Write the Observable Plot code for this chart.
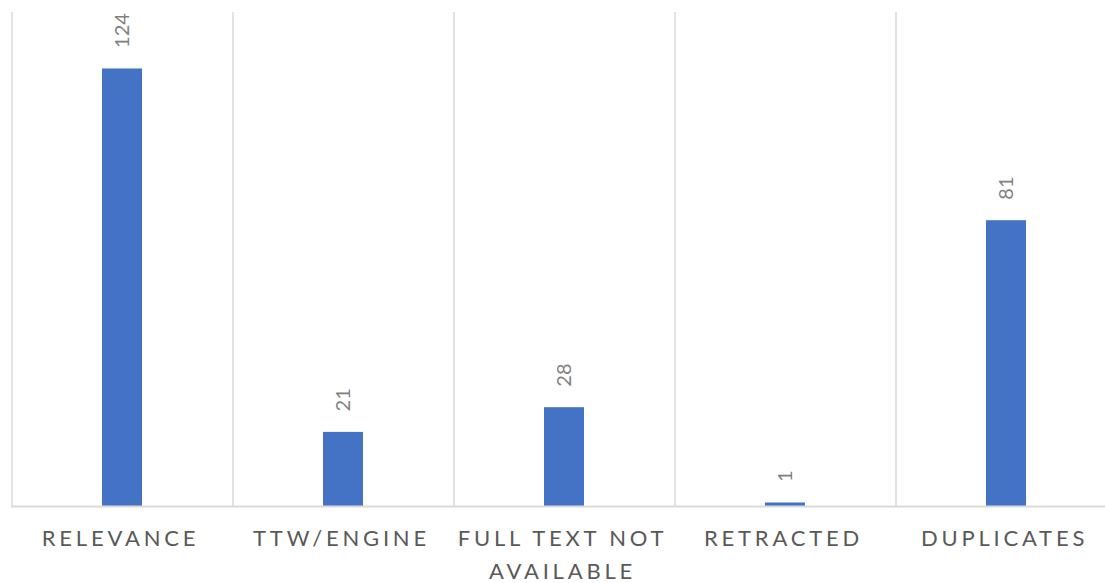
<!DOCTYPE html>
<html>
<head>
<meta charset="utf-8">
<script src="https://cdn.jsdelivr.net/npm/d3@7"></script>
<script src="https://cdn.jsdelivr.net/npm/@observablehq/plot@0.6"></script>
<style>
  html, body { margin: 0; padding: 0; background: #fff; }
  g[aria-label="x-axis tick label"] text { letter-spacing: 3.8px; }
</style>
</head>
<body>
<div id="chart"></div>
<script>
const categories = ["RELEVANCE", "TTW/ENGINE", "FULL TEXT NOT AVAILABLE", "RETRACTED", "DUPLICATES"];
const values = [124, 21, 28, 1, 81];
const tickLabels = ["RELEVANCE", "TTW/ENGINE", "FULL TEXT NOT\nAVAILABLE", "RETRACTED", "DUPLICATES"];

const data = categories.map((c, i) => ({category: c, value: values[i]}));
const labelOf = new Map(categories.map((c, i) => [c, tickLabels[i]]));

const W = 1105, H = 583;
const xRange = [11, 1116];
const step = (xRange[1] - xRange[0]) / categories.length;

const chart = Plot.plot({
  width: W,
  height: H,
  marginLeft: 11,
  marginRight: 0,
  marginTop: 12,
  marginBottom: 77,
  style: {fontFamily: "Lato, 'Open Sans', sans-serif", background: "#fff"},
  x: {type: "band", domain: categories, range: xRange, paddingInner: 0.82, paddingOuter: 0.41},
  y: {domain: [0, 140], axis: null},
  marks: [
    Plot.ruleX(categories, {x: d => d, dx: -step / 2, stroke: "#d9d9d9", strokeWidth: 1.5}),
    Plot.barY(data, {x: "category", y: "value", fill: "#4472c4"}),
    Plot.ruleY([0], {stroke: "#d9d9d9", strokeWidth: 2}),
    Plot.text(data, {x: "category", y: "value", text: d => String(d.value), rotate: -90, textAnchor: "start", dy: -21, fill: "#7f7f7f", fontSize: 20}),
    Plot.axisX({tickSize: 0, tickPadding: 17, dx: -2, fontSize: 22, lineHeight: 1.47, fill: "#595959", tickFormat: d => labelOf.get(d), label: null})
  ]
});
document.getElementById("chart").appendChild(chart);
</script>
</body>
</html>
